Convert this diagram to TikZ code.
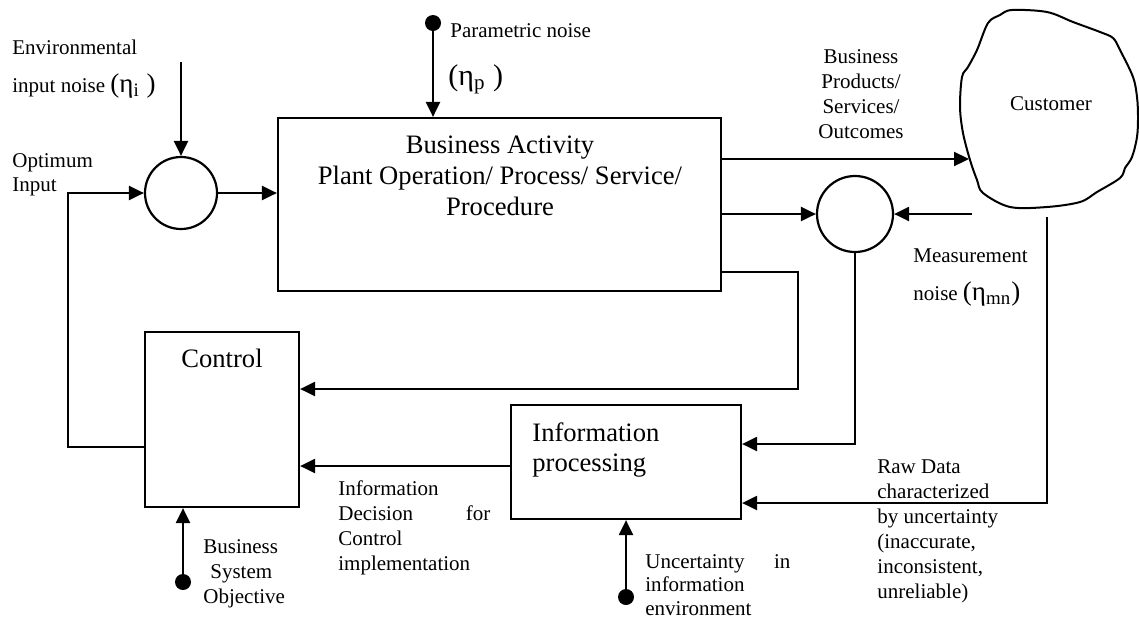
\documentclass[tikz,border=0pt]{standalone}
\usepackage{fontspec}
\setmainfont{Liberation Serif}
\usetikzlibrary{arrows.meta,calc,fit}

\tikzset{
  wire/.style={line width=1.1pt},
  flow/.style={wire,-{Triangle[length=7.5pt,width=7pt]}},
  blockbox/.style={draw,line width=1.1pt,inner sep=0pt},
  junction/.style={draw,circle,line width=1.1pt,inner sep=0pt},
  source/.style={circle,fill,inner sep=0pt,minimum size=8pt},
  lbl/.style={inner sep=0pt,font=\fontsize{10.5}{12.5}\selectfont,align=left},
  biglbl/.style={inner sep=0pt,font=\fontsize{13.3}{15.2}\selectfont},
}
\newcommand{\etafont}{\fontsize{13.5}{15}\selectfont}

\begin{document}
\begin{tikzpicture}[x=0.5pt,y=-0.5pt]
\useasboundingbox (0,0) rectangle (1139,622);

% ---- blocks ----
\node[blockbox, fit={(278,118)(721,291)}] (biz) {};
\node[blockbox, fit={(145,332)(299,507)}] (ctrl) {};
\node[blockbox, fit={(511,405)(741,519)}] (info) {};
\node[junction, minimum size=36pt] (c1) at (181,193) {};
\node[junction, minimum size=38pt] (c2) at (855,214) {};

% customer cloud
\draw[line width=1pt] plot[smooth cycle, tension=0.55] coordinates {
  (1012,10) (1047,12) (1073,22) (1100,32) (1113,38) (1120,50) (1133,77) (1137,97)
  (1138,117) (1137,137) (1132,157) (1125,168) (1120,178) (1097,192) (1080,202)
  (1047,207) (1010,207) (983,193) (977,180) (970,160) (963,133) (960,107)
  (962,77) (968,67) (977,50) (988,23) (1000,15)};
\node[lbl, anchor=base] (cust) at (1051,110) {Customer};

% ---- block texts (multi-line nodes sit on their last baseline) ----
\node[biglbl, align=center, anchor=base,
      font=\fontsize{13.3}{15.5}\selectfont] (bizlbl) at (500,215)
  {Business Activity\\Plant Operation/ Process/ Service/\\Procedure};
\node[biglbl, anchor=base] (ctrllbl) at (222,367) {Control};
\node[biglbl, align=left, anchor=base west,
      font=\fontsize{13.3}{15}\selectfont] (infolbl) at (532,471)
  {Information\\processing};

% ---- sources ----
\coordinate (envsrc) at (181,62);
\node[source] (pdot) at (433,23) {};
\node[source] (udot) at (626,597) {};
\node[source] (odot) at (183,582) {};

% ---- helper points for routed connectors ----
\coordinate (optcorner) at (68,447);
\coordinate (custin) at (969,159);
\coordinate (measin) at (972,214);
\coordinate (fbturn) at (798,272);
\coordinate (fbdown) at (798,389);
\coordinate (c2turn) at (855,444);
\coordinate (custout) at (1047,217);
\coordinate (rawturn) at (1047,503);
\coordinate (decy) at (400,466);

% ---- connectors ----
\draw[flow] (envsrc) -- (c1.north);
\draw[flow] (ctrl.west |- optcorner) -- (optcorner) |- (c1.west);
\draw[flow] (c1.east) -- (c1.east -| biz.west);
\draw[flow] (pdot) -- (pdot |- biz.north);
\draw[flow] (biz.east |- custin) -- (custin);
\draw[flow] (biz.east |- c2.west) -- (c2.west);
\draw[flow] (measin) -- (c2.east);
\draw[flow] (biz.east |- fbturn) -- (fbturn) -- (fbdown) -- (fbdown -| ctrl.east);
\draw[flow] (c2.south) -- (c2turn) -- (c2turn -| info.east);
\draw[flow] (custout) -- (rawturn) -- (rawturn -| info.east);
\draw[flow] (decy -| info.west) -- (decy -| ctrl.east);
\draw[flow] (udot) -- (udot |- info.south);
\draw[flow] (odot) -- (odot |- ctrl.south);

% ---- labels ----
\node[lbl, anchor=base west] (envA) at (12,54) {Environmental};
\node[lbl, anchor=base west] (envB) at (12,92)
  {input noise {\etafont(η\textsubscript{i} )}};
\node[lbl, anchor=base west, font=\fontsize{10.5}{12}\selectfont] (optlbl) at (12,191)
  {Optimum\\Input};
\node[lbl, anchor=base west] (parA) at (450,37) {Parametric noise};
\node[lbl, anchor=base west] (parB) at (448,85)
  {{\fontsize{15}{17}\selectfont(η\textsubscript{p} )}};
\node[lbl, align=center, anchor=base] (outlbl) at (861,138)
  {Business\\Products/\\Services/\\Outcomes};
\node[lbl, anchor=base west] (measA) at (913,262) {Measurement};
\node[lbl, anchor=base west] (measB) at (913,300)
  {noise {\etafont(η\textsubscript{mn})}};
\node[lbl, anchor=base west] (rawlbl) at (877,598)
  {Raw Data\\characterized\\by uncertainty\\(inaccurate,\\inconsistent,\\unreliable)};
\node[lbl, anchor=base west, text width=76pt] (declbl) at (338,495)
  {Information\\Decision\hfill for\\Control\\implementation};
\node[lbl, anchor=base west, text width=72.5pt,
      font=\fontsize{10.5}{11.75}\selectfont] (unclbl) at (645,568)
  {Uncertainty\hfill in\\information\\environment};
\node[lbl, anchor=base west] (objlbl) at (203,603)
  {Business\\\hspace*{3.5pt}System\\Objective};
\end{tikzpicture}
\end{document}
